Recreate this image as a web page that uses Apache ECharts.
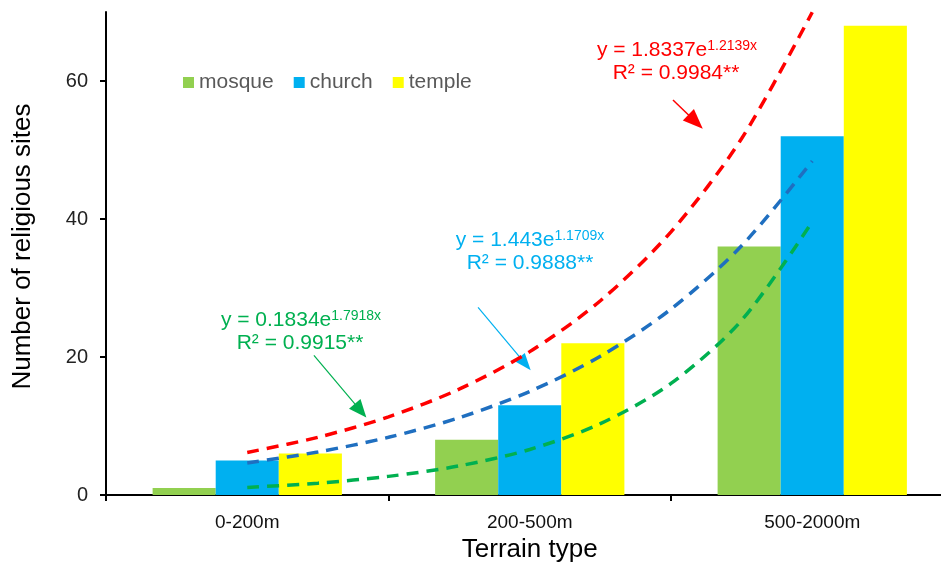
<!DOCTYPE html>
<html>
<head>
<meta charset="utf-8">
<script src="https://cdn.jsdelivr.net/npm/echarts@6/dist/echarts.min.js"></script>
<style>html,body{margin:0;padding:0;background:#fff}#c{width:941px;height:565px}</style>
</head>
<body>
<div id="c"></div>
<script>
var categories = ['0-200m', '200-500m', '500-2000m'];
var mosque = [1, 8, 36];
var church = [5, 13, 52];
var temple = [6, 22, 68];
var yTicks = [0, 20, 40, 60];
// trend curves (x = category position 1..3)
var trendX = [1, 1.25, 1.5, 1.75, 2, 2.25, 2.5, 2.75, 3];
var redTrend = [6.17, 8.36, 11.33, 15.34, 20.78, 28.15, 38.14, 51.66, 69.97];
var blueTrend = [4.65, 6.24, 8.36, 11.20, 15.01, 20.11, 26.95, 36.12, 48.40];
var greenTrend = [1.10, 1.72, 2.70, 4.22, 6.60, 10.34, 16.17, 25.32, 39.61];
// arrow annotations [startX, startY, endX, endY] in data units
var redArrow = [2.507, 57.25, 2.587, 54.1];
var blueArrow = [1.817, 27.2, 1.984, 19.04];
var greenArrow = [1.236, 20.24, 1.401, 12.22];

var FONT = 'Liberation Sans, Arial, sans-serif';
function pts(ys) { return trendX.map(function (x, i) { return [x, ys[i]]; }); }
function arrow(a, color, w, size) {
  return {
    silent: true, animation: false,
    symbol: ['none', 'triangle'], symbolSize: size,
    label: { show: false }, emphasis: { disabled: true },
    itemStyle: { color: color },
    lineStyle: { color: color, width: w, type: 'solid' },
    data: [[{ coord: [a[0], a[1]] }, { coord: [a[2], a[3]] }]]
  };
}
function trend(name, ys, color, arrowColor, arr, w, size) {
  return {
    name: name, type: 'line', xAxisIndex: 1, yAxisIndex: 0,
    data: pts(ys), smooth: 0.3, showSymbol: false, symbol: 'none', z: 5,
    silent: true,
    lineStyle: { color: color, width: 3.5, type: [12, 8] },
    markLine: arrow(arr, arrowColor, w, size)
  };
}
function eq(x, y, main, sup, color) {
  return {
    type: 'text', x: x, y: y, z: 100,
    style: {
      text: '{m|' + main + '}{s|' + sup + '}',
      align: 'center', verticalAlign: 'middle', fill: color,
      rich: {
        m: { fontSize: 21, fontFamily: FONT, fill: color },
        s: { fontSize: 14, fontFamily: FONT, fill: color, verticalAlign: 'top' }
      }
    }
  };
}
function txt(x, y, s, color) {
  return {
    type: 'text', x: x, y: y, z: 100,
    style: { text: s, align: 'center', verticalAlign: 'middle', fill: color, fontSize: 21, fontFamily: FONT }
  };
}

var chart = echarts.init(document.getElementById('c'), null, { renderer: 'canvas' });
chart.setOption({
  animation: false,
  textStyle: { fontFamily: FONT },
  grid: { left: 106, top: 12, bottom: 70, width: 847.5, containLabel: false, outerBoundsMode: 'none' },
  legend: {
    data: ['mosque', 'church', 'temple'],
    left: 178, top: 67, icon: 'rect', itemWidth: 11, itemHeight: 11, itemGap: 20,
    textStyle: { fontSize: 21, color: '#595959', fontFamily: FONT }
  },
  xAxis: [{
    type: 'category', data: categories,
    axisLine: { lineStyle: { color: '#000', width: 2 } },
    axisTick: { show: true, length: 6, lineStyle: { color: '#000', width: 2 } },
    axisLabel: { fontSize: 19, color: '#111', margin: 18, fontFamily: FONT },
    name: 'Terrain type', nameLocation: 'middle', nameGap: 42,
    nameTextStyle: { fontSize: 26, color: '#000', fontFamily: FONT }
  }, {
    type: 'value', min: 0.5, max: 3.5, show: false
  }],
  yAxis: {
    type: 'value', min: 0, max: 70,
    axisLine: { show: true, lineStyle: { color: '#000', width: 2 } },
    axisTick: { show: true, length: 6, customValues: yTicks, lineStyle: { color: '#000', width: 2 } },
    axisLabel: { fontSize: 20, color: '#222', margin: 18, customValues: yTicks, fontFamily: FONT },
    splitLine: { show: false },
    name: 'Number of religious sites', nameLocation: 'middle', nameRotate: 90, nameGap: 70,
    nameTextStyle: { fontSize: 26, color: '#000', fontFamily: FONT, padding: [0, 0, 0, 14] }
  },
  series: [
    { name: 'mosque', type: 'bar', data: mosque, barGap: 0, barCategoryGap: '33%', itemStyle: { color: '#92D050' } },
    { name: 'church', type: 'bar', data: church, barGap: 0, barCategoryGap: '33%', itemStyle: { color: '#00B0F0' } },
    { name: 'temple', type: 'bar', data: temple, barGap: 0, barCategoryGap: '33%', itemStyle: { color: '#FFFF00' } },
    trend('redTrend', redTrend, '#FF0000', '#FF0000', redArrow, 1.5, [16, 20]),
    trend('blueTrend', blueTrend, '#1F6FC0', '#00B0F0', blueArrow, 1.2, [13, 17]),
    trend('greenTrend', greenTrend, '#00B050', '#00B050', greenArrow, 1.2, [15, 18])
  ],
  graphic: [
    eq(677, 50, 'y = 1.8337e', '1.2139x', '#FF0000'),
    txt(676, 73, 'R² = 0.9984**', '#FF0000'),
    eq(530, 240, 'y = 1.443e', '1.1709x', '#00B0F0'),
    txt(530, 263, 'R² = 0.9888**', '#00B0F0'),
    eq(301, 320, 'y = 0.1834e', '1.7918x', '#00B050'),
    txt(300, 343, 'R² = 0.9915**', '#00B050')
  ]
});
</script>
</body>
</html>
